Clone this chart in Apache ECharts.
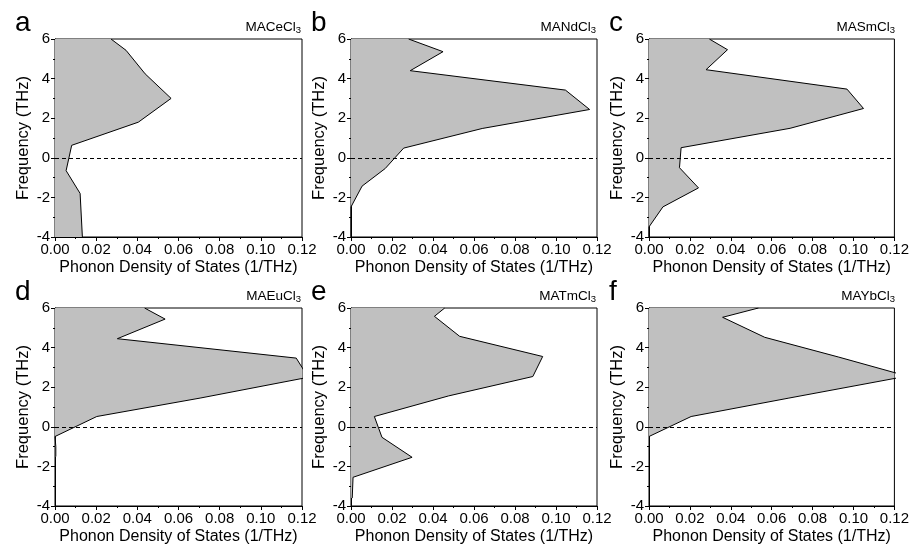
<!DOCTYPE html>
<html>
<head>
<meta charset="utf-8">
<script src="https://cdn.jsdelivr.net/npm/echarts@6/dist/echarts.min.js"></script>
<style>
  html, body { margin: 0; padding: 0; background: #fff; }
  #chart { width: 912px; height: 550px; }
</style>
</head>
<body>
<div id="chart"></div>
<script>
// panel letters and compound names (subscript digit kept separate)
const letters = ['a', 'b', 'c', 'd', 'e', 'f']
const compounds = ['MACeCl', 'MANdCl', 'MASmCl', 'MAEuCl', 'MATmCl', 'MAYbCl']

// frequency (THz) / phonon DOS (1/THz)
const ceFreq = [6, 5.43, 4.24, 3.0, 1.8, 0.63, -0.65, -1.8, -4]
const ceDos = [0.0272, 0.0345, 0.0438, 0.0564, 0.0405, 0.0081, 0.0054, 0.0122, 0.0133]

const ndFreq = [6, 5.36, 4.4, 3.42, 2.44, 1.48, 0.49, -0.54, -1.43, -2.48, -4]
const ndDos = [0.0281, 0.0449, 0.0289, 0.1046, 0.1164, 0.064, 0.0257, 0.0167, 0.0054, 0, 0]

const smFreq = [6, 5.46, 4.45, 3.47, 2.49, 1.49, 0.51, -0.5, -1.52, -2.48, -3.49, -4]
const smDos = [0.0295, 0.0384, 0.0279, 0.0968, 0.1049, 0.069, 0.0157, 0.0149, 0.0242, 0.0068, 0, 0]

const euFreq = [6, 5.44, 4.45, 3.47, 2.5, 1.45, 0.52, -0.49, -1.0, -1.5]
const euDos = [0.0435, 0.0535, 0.0303, 0.1172, 0.123, 0.0705, 0.0203, 0, 0.0004, 0.0004]

const tmFreq = [6, 5.58, 4.57, 3.55, 2.54, 1.56, 0.52, -0.53, -1.54, -2.55, -3.6]
const tmDos = [0.0457, 0.0407, 0.053, 0.0935, 0.0887, 0.0476, 0.0114, 0.0151, 0.0298, 0.001, 0.0006]

const ybFreq = [6, 5.53, 4.52, 3.52, 2.56, 1.45, 0.52, -0.49]
const ybDos = [0.0535, 0.036, 0.0566, 0.0928, 0.1262, 0.0684, 0.0206, 0]

const freqs = [ceFreq, ndFreq, smFreq, euFreq, tmFreq, ybFreq]
const doses = [ceDos, ndDos, smDos, euDos, tmDos, ybDos]

const xTicks = [0, 0.12, 0.02] // min, max, interval
const yTicks = [-4, 6, 2]

const font = 'Liberation Sans, Arial, sans-serif'
const lefts = [55, 351, 649]
const widths = [247, 246, 247]
const tops = [39, 308]
const plotH = 198

const grid = []
const xAxis = []
const yAxis = []
const series = []
const title = []

for (let i = 0; i < 6; i++) {
  const col = i % 3
  const row = Math.floor(i / 3)
  const left = lefts[col]
  const top = tops[row]
  const freq = freqs[i]
  const dos = doses[i]

  grid.push({
    left: left, top: top, width: widths[col], height: plotH,
    show: true, borderColor: '#000', borderWidth: 1, backgroundColor: 'transparent'
  })

  xAxis.push({
    gridIndex: i,
    type: 'value',
    min: xTicks[0], max: xTicks[1], interval: xTicks[2],
    name: 'Phonon Density of States (1/THz)',
    nameLocation: 'middle',
    nameGap: 23,
    nameTextStyle: { fontSize: 16, color: '#000', fontFamily: font },
    axisLine: { show: true, onZero: false, lineStyle: { color: '#000', width: 1 } },
    axisTick: { show: true, length: 4, lineStyle: { color: '#000' } },
    minorTick: { show: true, splitNumber: 2, length: 2, lineStyle: { color: '#000' } },
    axisLabel: {
      margin: 5, fontSize: 15, color: '#000', fontFamily: font,
      formatter: v => v.toFixed(2)
    },
    splitLine: { show: false }
  })

  yAxis.push({
    gridIndex: i,
    type: 'value',
    min: yTicks[0], max: yTicks[1], interval: yTicks[2],
    name: 'Frequency (THz)',
    nameLocation: 'middle',
    nameRotate: 90,
    nameGap: 23,
    nameTextStyle: { fontSize: 16.5, color: '#000', fontFamily: font },
    axisLine: { show: true, onZero: false, lineStyle: { color: '#000', width: 1 } },
    axisTick: { show: true, length: 4, lineStyle: { color: '#000' } },
    minorTick: { show: true, splitNumber: 2, length: 2, lineStyle: { color: '#000' } },
    axisLabel: { margin: 5, fontSize: 15, color: '#000', fontFamily: font },
    splitLine: { show: false }
  })

  // gray fill between the frequency axis and the DOS curve
  series.push({
    type: 'custom',
    xAxisIndex: i,
    yAxisIndex: i,
    silent: true,
    clip: true,
    data: [[0, 0]],
    renderItem: function (params, api) {
      const pts = dos.map((x, k) => api.coord([x, freq[k]]))
      pts.push(api.coord([0, freq[freq.length - 1]]))
      pts.push(api.coord([0, freq[0]]))
      const cs = params.coordSys
      return {
        type: 'polygon',
        shape: { points: pts },
        style: { fill: '#c0c0c0', stroke: null },
        clipPath: { type: 'rect', shape: { x: cs.x, y: cs.y, width: cs.width, height: cs.height } }
      }
    },
    z: 1
  })

  series.push({
    type: 'line',
    xAxisIndex: i,
    yAxisIndex: i,
    data: dos.map((x, k) => [x, freq[k]]),
    showSymbol: false,
    symbol: 'none',
    silent: true,
    lineStyle: { color: '#000', width: 1 },
    z: 3,
    markLine: {
      silent: true,
      symbol: 'none',
      label: { show: false },
      lineStyle: { type: [4, 3], color: '#000', width: 1 },
      data: [{ yAxis: 0 }]
    }
  })

  // panel letter
  title.push({
    text: letters[i],
    left: left - 40,
    top: top - 30,
    padding: 0,
    textStyle: { fontSize: 28, fontWeight: 'normal', color: '#000', fontFamily: font }
  })

  // compound name with subscript 3
  title.push({
    text: '{m|' + compounds[i] + '}{s|3}',
    right: 912 - (left + widths[col]) + 1,
    top: top - 20,
    padding: 0,
    textStyle: {
      fontWeight: 'normal',
      rich: {
        m: { fontSize: 13.5, fontWeight: 'normal', color: '#000', fontFamily: font, lineHeight: 17 },
        s: { fontSize: 9.5, fontWeight: 'normal', color: '#000', fontFamily: font, lineHeight: 17, padding: [6, 0, 0, 0] }
      }
    }
  })
}

const chart = echarts.init(document.getElementById('chart'), null, { renderer: 'canvas' })
chart.setOption({
  animation: false,
  backgroundColor: '#fff',
  title: title,
  grid: grid,
  xAxis: xAxis,
  yAxis: yAxis,
  series: series
})
</script>
</body>
</html>
